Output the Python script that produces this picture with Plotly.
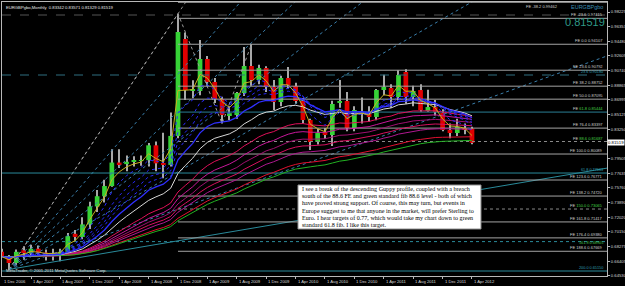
import plotly.graph_objects as go

# ---------------- data (monthly EURGBP, Dec 2006 .. Apr 2012) ----------------
opens = [0.6760, 0.6700, 0.6617, 0.6780, 0.6745, 0.6800, 0.6750, 0.6720, 0.6740, 0.6760,
         0.6990, 0.6950, 0.7110, 0.7340, 0.7470, 0.7600, 0.7900, 0.7880, 0.7910, 0.7920,
         0.7930, 0.8120, 0.7890, 0.7870, 0.8240, 0.9478, 0.8814, 0.8814, 0.9222, 0.8929,
         0.8712, 0.8507, 0.8507, 0.8788, 0.9133, 0.8954, 0.9107, 0.8865, 0.8673, 0.8980,
         0.8878, 0.8686, 0.8443, 0.8162, 0.8290, 0.8252, 0.8660, 0.8686, 0.8341, 0.8530,
         0.8520, 0.8482, 0.8826, 0.8852, 0.8737, 0.9056, 0.8737, 0.8826, 0.8558, 0.8609,
         0.8533, 0.8316, 0.8277, 0.8341, 0.83342]
highs = [0.6800, 0.6720, 0.6790, 0.6830, 0.6850, 0.6840, 0.6790, 0.6800, 0.6800, 0.7000,
         0.7040, 0.7200, 0.7400, 0.7550, 0.7680, 0.8070, 0.8070, 0.7990, 0.7980, 0.7990,
         0.8150, 0.8170, 0.8280, 0.8540, 0.9800, 0.9560, 0.8950, 0.9465, 0.9260, 0.8980,
         0.8740, 0.8620, 0.8800, 0.9376, 0.94107, 0.9150, 0.9130, 0.8954, 0.9010, 0.9120,
         0.8920, 0.8720, 0.8460, 0.8330, 0.8340, 0.8690, 0.8954, 0.8800, 0.8620, 0.8730,
         0.8620, 0.8840, 0.9020, 0.8900, 0.9080, 0.9090, 0.8880, 0.8900, 0.8830, 0.8700,
         0.8580, 0.8400, 0.8460, 0.8400, 0.83571]
lows = [0.6700, 0.6535, 0.6590, 0.6660, 0.6720, 0.6720, 0.6650, 0.6650, 0.6640, 0.6740,
        0.6900, 0.6920, 0.7050, 0.7270, 0.7390, 0.7590, 0.7830, 0.7790, 0.7850, 0.7860,
        0.7850, 0.7790, 0.7700, 0.7850, 0.8210, 0.8700, 0.8720, 0.8760, 0.8880, 0.8660,
        0.8398, 0.8440, 0.8460, 0.8750, 0.8880, 0.8900, 0.8800, 0.8571, 0.8620, 0.8850,
        0.8650, 0.8400, 0.8060, 0.8130, 0.8200, 0.8110, 0.8600, 0.8300, 0.8300, 0.8400,
        0.8420, 0.8440, 0.8760, 0.8600, 0.8700, 0.8650, 0.8620, 0.8550, 0.8550, 0.8500,
        0.8300, 0.8210, 0.8240, 0.8260, 0.81329]
closes = [0.6700, 0.6617, 0.6760, 0.6745, 0.6800, 0.6750, 0.6720, 0.6740, 0.6760, 0.6960,
          0.6950, 0.7110, 0.7340, 0.7470, 0.7600, 0.7900, 0.7880, 0.7910, 0.7920, 0.7930,
          0.8120, 0.7890, 0.7870, 0.8240, 0.9567, 0.8826, 0.8839, 0.9222, 0.8929, 0.8712,
          0.8507, 0.8530, 0.8788, 0.9133, 0.8954, 0.9107, 0.8865, 0.8673, 0.8980, 0.8890,
          0.8686, 0.8443, 0.8162, 0.8277, 0.8252, 0.8648, 0.8686, 0.8341, 0.8571, 0.8545,
          0.8482, 0.8826, 0.8865, 0.8737, 0.9018, 0.8737, 0.8814, 0.8571, 0.8609, 0.8546,
          0.8316, 0.8277, 0.8354, 0.8316, 0.81519]

date_labels = ["1 Dec 2006", "1 Apr 2007", "1 Aug 2007", "1 Dec 2007", "1 Apr 2008",
               "1 Aug 2008", "1 Dec 2008", "1 Apr 2009", "1 Aug 2009", "1 Dec 2009",
               "1 Apr 2010", "1 Aug 2010", "1 Dec 2010", "1 Apr 2011", "1 Aug 2011",
               "1 Dec 2011", "1 Apr 2012"]
price_ticks = [0.98225, 0.96353, 0.94480, 0.92609, 0.90740, 0.88865, 0.86995, 0.85125,
               0.83250, 0.79505, 0.77635, 0.75760, 0.73890, 0.72020, 0.70150,
               0.68275, 0.66405, 0.64530]

# Fibonacci expansion levels (ratio, price as labelled)
fe_ratios = ["-38.2", "-23.6", "0.0", "23.6", "38.2", "50.0", "61.8", "76.4", "88.6",
             "100.0", "123.6", "138.2", "150.0", "161.8", "176.4", "188.6"]
fe_prices = [0.99462, 0.97415, 0.94107, 0.90792, 0.88752, 0.87095, 0.85444, 0.83397,
             0.81687, 0.80089, 0.76771, 0.74720, 0.73065, 0.71417, 0.69380, 0.67669]
fe_green = ["61.8", "88.6", "150.0"]
fe_dotted = ["88.6", "150.0"]

# second (standard fib) tool levels
std_labels = ["23.6 0.90180", "61.8 0.77663", "161.8 0.68905", "200.0 0.65150"]
std_prices = [0.90180, 0.77663, 0.68905, 0.65150]
std_dash = ["dash", "solid", "dot", "solid"]

# Fibonacci fan from the 2007 low to the Dec 2008 high
fan_ratios = [1.0, 0.764, 0.618, 0.5, 0.382, 0.236, 0.112]
fan_origin = (1, 0.6535)
fan_peak = (24, 0.9800)

# zigzag swing points (month index, price)
zz_idx = [1, 24, 30, 34]
zz_price = [0.6535, 0.9800, 0.8398, 0.94107]

# Guppy-style moving averages (periods)
yellow_period = 3
short_periods = [5, 8, 10, 12]
blue_solid_period = 15
white_period = 20
long_periods = [30, 35, 40, 45, 50, 60]
green_period = 65

note_lines = ["I see a break of the descending Guppy profile, coupled with a breach",
              "south of the 88.6 FE and green standard fib 88.6 level - both of which",
              "have proved strong support. Of course, this may turn, but events in",
              "Europe suggest to me that anyone in the market, will prefer Sterling to",
              "Euro. I hear targets of 0.77, which would take my chart down to green",
              "standard 61.8 fib. I like this target."]

# ---------------- figure ----------------
n = len(closes)
idx = list(range(n))
XMIN, XMAX = 0.0544, 82.37
YMIN, YMAX = 0.64512, 0.99502
PLOT_TOP, PLOT_H = 2, 274
PX_PER_X = 7.35


def ema(vals, p):
    a = 2.0 / (p + 1)
    out = [vals[0]]
    for v in vals[1:]:
        out.append(out[-1] + a * (v - out[-1]))
    return out


def py2price(py):
    return YMAX - (py - PLOT_TOP) * (YMAX - YMIN) / PLOT_H


def px2x(px):
    return XMIN + (px - 2) / PX_PER_X


fig = go.Figure()

# wicks
fig.add_trace(go.Bar(x=idx, base=lows, y=[h - l for h, l in zip(highs, lows)],
                     width=0.14, marker_color="#a8a8a8", marker_line_width=0,
                     hoverinfo="skip"))
# bodies
body_base = [min(o, c) for o, c in zip(opens, closes)]
body_h = [max(abs(c - o), 0.0008) for o, c in zip(opens, closes)]
body_col = ["#36d236" if c >= o else "#e00000" for o, c in zip(opens, closes)]
fig.add_trace(go.Bar(x=idx, base=body_base, y=body_h, width=0.64,
                     marker_color=body_col, marker_line_width=0, hoverinfo="skip"))

# fan rays
ox, oy = fan_origin
px_, py_ = fan_peak
for r in fan_ratios:
    slope = r * (py_ - oy) / (px_ - ox)
    xs = [ox, XMAX]
    ys = [oy, oy + slope * (XMAX - ox)]
    if r == 1.0:
        col, dash = "#8c8c8c", "dot"
    elif r == 0.112:
        col, dash = "#2a8a9a", "solid"
    else:
        col, dash = "#3a7eaa", "dot"
    fig.add_trace(go.Scatter(x=xs, y=ys, mode="lines",
                             line=dict(color=col, width=1, dash=dash), hoverinfo="skip"))

# zigzag
fig.add_trace(go.Scatter(x=zz_idx, y=zz_price, mode="lines",
                         line=dict(color="#9a9a9a", width=1, dash="dot"), hoverinfo="skip"))

# peak level dashed line
fig.add_trace(go.Scatter(x=[XMIN, XMAX], y=[highs[24] - 0.0016] * 2, mode="lines",
                         line=dict(color="#555555", width=1, dash="dash"), hoverinfo="skip"))

# standard fib lines
for p, d in zip(std_prices, std_dash):
    col = "#2f6f80" if d == "dash" else "#2a8a9a"
    fig.add_trace(go.Scatter(x=[XMIN, XMAX], y=[p, p], mode="lines",
                             line=dict(color=col, width=1, dash=d), hoverinfo="skip"))

# FE lines
for r, p in zip(fe_ratios, fe_prices):
    if r == "61.8":
        col, d = "#2a7f95", "solid"
    elif r in fe_dotted:
        col, d = "#8a8a8a", "dot"
    else:
        col, d = "#a4a4a4", "solid"
    fig.add_trace(go.Scatter(x=[24, XMAX], y=[p, p], mode="lines",
                             line=dict(color=col, width=1, dash=d), hoverinfo="skip"))

# moving averages
for k, p in enumerate(long_periods):
    cols = ["#e0105a", "#c8189a", "#a01070", "#d81060", "#b01890", "#e01030"]
    fig.add_trace(go.Scatter(x=idx, y=ema(closes, p), mode="lines",
                             line=dict(color=cols[k % len(cols)], width=1), hoverinfo="skip"))
fig.add_trace(go.Scatter(x=idx, y=ema(closes, green_period), mode="lines",
                         line=dict(color="#22b022", width=1), hoverinfo="skip"))
fig.add_trace(go.Scatter(x=idx, y=ema(closes, white_period), mode="lines",
                         line=dict(color="#d8d8d8", width=1), hoverinfo="skip"))
for p in short_periods:
    fig.add_trace(go.Scatter(x=idx, y=ema(closes, p), mode="lines",
                             line=dict(color="#2a2aff", width=1, dash="dot"), hoverinfo="skip"))
fig.add_trace(go.Scatter(x=idx, y=ema(closes, blue_solid_period), mode="lines",
                         line=dict(color="#3030ff", width=1.3), hoverinfo="skip"))
fig.add_trace(go.Scatter(x=idx, y=ema(closes, yellow_period), mode="lines",
                         line=dict(color="#c8b020", width=1), hoverinfo="skip"))

ann = []
small = dict(family="Liberation Sans", size=4, color="#d0d0d0")
# FE labels
for r, p in zip(fe_ratios, fe_prices):
    if r in fe_green:
        txt = "FE <span style='color:#44d044'>%s %.5f</span>" % (r, p)
    else:
        txt = "FE %s %.5f" % (r, p)
    if r == "-38.2":
        ann.append(dict(x=76.0, y=p, xref="x", yref="y", text=txt, showarrow=False,
                        xanchor="right", yanchor="top", yshift=0, font=small))
    else:
        ann.append(dict(x=XMAX - 0.25, y=p, xref="x", yref="y", text=txt, showarrow=False,
                        xanchor="right", yanchor="bottom", yshift=-1, font=small))
for t, p, d in zip(std_labels, std_prices, std_dash):
    col = "#2f9fb0" if d != "dot" else "#44c044"
    ya = "middle" if d == "dot" else "bottom"
    ann.append(dict(x=XMAX - 0.25, y=p, xref="x", yref="y", text=t, showarrow=False,
                    xanchor="right", yanchor=ya, yshift=-1,
                    font=dict(family="Liberation Sans", size=3.8, color=col)))

# date labels (MetaTrader style: text starts at the bar)
tick_pos = list(range(0, n, 4))
for i, t in zip(tick_pos, date_labels):
    ann.append(dict(x=max(i, XMIN + 0.01), y=0, xref="x", yref="paper", xanchor="left",
                    yanchor="top", yshift=-1, showarrow=False, text=t,
                    font=dict(family="Liberation Sans", size=4.2, color="#d8d8d8")))

# title, copyright
ann.append(dict(x=0.004, y=0.995, xref="paper", yref="paper", xanchor="left", yanchor="top",
                showarrow=False, text="EURGBPgbo,Monthly  0.83342 0.83571 0.81329 0.81519",
                font=dict(family="Liberation Sans", size=4.2, color="#e8e8e8")))
ann.append(dict(x=0.004, y=0.002, xref="paper", yref="paper", xanchor="left", yanchor="bottom",
                showarrow=False, text="MetaTrader, © 2001-2011 MetaQuotes Software Corp.",
                font=dict(family="Liberation Sans", size=4.2, color="#e0e0e0")))
# top-right symbol and big price
ann.append(dict(x=0.997, y=1.0, xref="paper", yref="paper", xanchor="right", yanchor="top",
                showarrow=False, text="EURGBPgbo",
                font=dict(family="Liberation Sans", size=5.5, color="#3a8ab0")))
ann.append(dict(x=1.0, y=0.955, xref="paper", yref="paper", xanchor="right", yanchor="top",
                showarrow=False, text="0.81519",
                font=dict(family="Liberation Sans", size=11, color="#2f9a88")))
# current price marker on axis
ann.append(dict(x=1.0, y=closes[-1], xref="paper", yref="y", xanchor="left", yanchor="middle",
                showarrow=False, text="0.81519", bgcolor="#ffffff", borderpad=0,
                font=dict(family="Liberation Sans", size=4.3, color="#000000")))

# note box: white rectangle + one annotation per line
box_l, box_r, box_t, box_b = 298, 481, 185, 229
shapes = [dict(type="rect", xref="x", yref="y", x0=px2x(box_l), x1=px2x(box_r),
               y0=py2price(box_b), y1=py2price(box_t), fillcolor="#ffffff",
               line=dict(color="#909090", width=1), layer="above")]
step = (box_b - box_t) / len(note_lines)
for k, t in enumerate(note_lines):
    ann.append(dict(x=px2x(box_l + 2), y=py2price(box_t + step * (k + 0.5)), xref="x", yref="y",
                    xanchor="left", yanchor="middle", showarrow=False, text=t,
                    font=dict(family="Liberation Serif", size=6.1, color="#000000")))

fig.update_layout(
    width=625, height=286,
    margin=dict(l=2, r=18, t=2, b=10, autoexpand=False),
    paper_bgcolor="#000000", plot_bgcolor="#000000",
    showlegend=False, barmode="overlay",
    annotations=ann, shapes=shapes,
    xaxis=dict(range=[XMIN, XMAX], tickvals=tick_pos, showticklabels=False,
               showgrid=False, zeroline=False, automargin=False,
               showline=True, mirror=True, linecolor="#b8b8b8", linewidth=1,
               ticks="outside", ticklen=2, tickcolor="#b8b8b8"),
    yaxis=dict(range=[YMIN, YMAX], side="right", tickvals=price_ticks,
               ticktext=["%.5f" % v for v in price_ticks], showgrid=False, zeroline=False,
               automargin=False,
               showline=True, mirror=True, linecolor="#b8b8b8", linewidth=1,
               ticks="outside", ticklen=2, tickcolor="#b8b8b8",
               tickfont=dict(family="Liberation Sans", size=4.2, color="#d8d8d8")),
)

fig.write_html("out.html")
